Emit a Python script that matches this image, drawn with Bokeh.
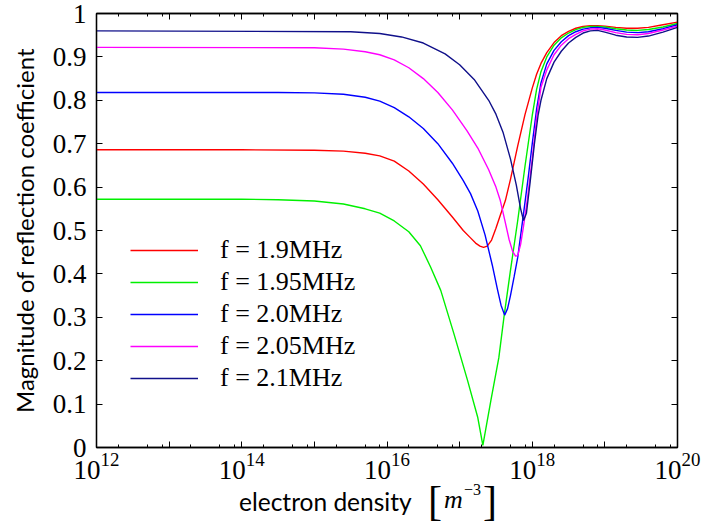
from bokeh.plotting import figure
from bokeh.models import (FixedTicker, LinearAxis, LogAxis, Legend, LegendItem, Div)
from bokeh.layouts import column
from bokeh.embed import file_html
from bokeh.resources import INLINE

# ---- data (log10 of electron density, |reflection coefficient|) ----
exp_190 = [12.0, 14.0, 15.0, 15.4, 15.7, 15.9, 16.1, 16.3, 16.5, 16.7, 16.9, 17.05, 17.15, 17.22, 17.28,
           17.33, 17.38, 17.44, 17.5, 17.56, 17.63, 17.7, 17.8, 17.9, 18.0, 18.06, 18.12, 18.2, 18.3,
           18.4, 18.5, 18.6, 18.7, 18.8, 18.9, 19.0, 19.15, 19.3, 19.45, 19.6, 19.8, 20.0]
mag_190 = [0.686, 0.686, 0.685, 0.683, 0.678, 0.672, 0.660, 0.637, 0.607, 0.571, 0.531, 0.500, 0.483, 0.471, 0.464,
           0.461, 0.464, 0.478, 0.505, 0.535, 0.569, 0.618, 0.695, 0.767, 0.828, 0.860, 0.885, 0.910, 0.933,
           0.949, 0.959, 0.966, 0.970, 0.972, 0.972, 0.971, 0.968, 0.966, 0.966, 0.968, 0.974, 0.980]

exp_195 = [12.0, 14.0, 14.5, 15.0, 15.4, 15.7, 15.9, 16.1, 16.3, 16.46, 16.6, 16.74, 16.92, 17.11, 17.25,
           17.32, 17.43, 17.54, 17.61, 17.7, 17.8, 17.9, 18.0, 18.06, 18.12, 18.2, 18.3, 18.4, 18.5,
           18.6, 18.7, 18.8, 18.9, 19.0, 19.15, 19.3, 19.45, 19.6, 19.8, 20.0]
mag_195 = [0.572, 0.572, 0.571, 0.568, 0.561, 0.550, 0.540, 0.522, 0.497, 0.465, 0.416, 0.362, 0.263, 0.154, 0.069,
           0.005, 0.108, 0.207, 0.300, 0.408, 0.523, 0.648, 0.765, 0.825, 0.866, 0.900, 0.927, 0.944, 0.955,
           0.963, 0.968, 0.970, 0.970, 0.969, 0.965, 0.962, 0.961, 0.963, 0.969, 0.977]

exp_200 = [12.0, 14.5, 15.0, 15.4, 15.7, 15.9, 16.1, 16.3, 16.5, 16.7, 16.9, 17.05, 17.15, 17.25, 17.35,
           17.45, 17.52, 17.57, 17.62, 17.66, 17.7, 17.75, 17.8, 17.88, 17.95, 18.0, 18.06, 18.12, 18.2,
           18.3, 18.4, 18.5, 18.6, 18.7, 18.8, 18.9, 19.0, 19.15, 19.3, 19.45, 19.6, 19.8, 20.0]
mag_200 = [0.818, 0.818, 0.817, 0.814, 0.807, 0.798, 0.783, 0.762, 0.735, 0.700, 0.655, 0.615, 0.585, 0.545, 0.490,
           0.420, 0.365, 0.328, 0.305, 0.320, 0.350, 0.393, 0.438, 0.539, 0.630, 0.700, 0.780, 0.840, 0.884,
           0.915, 0.935, 0.949, 0.958, 0.964, 0.967, 0.968, 0.966, 0.961, 0.957, 0.956, 0.958, 0.965, 0.974]

exp_205 = [12.0, 15.0, 15.4, 15.7, 15.9, 16.1, 16.3, 16.5, 16.7, 16.9, 17.1, 17.25, 17.4, 17.5, 17.56,
           17.62, 17.68, 17.73, 17.77, 17.8, 17.84, 17.88, 17.93, 18.0, 18.06, 18.12, 18.2, 18.3, 18.4,
           18.5, 18.6, 18.7, 18.8, 18.9, 19.0, 19.15, 19.3, 19.45, 19.6, 19.8, 20.0]
mag_205 = [0.922, 0.921, 0.918, 0.912, 0.905, 0.893, 0.875, 0.850, 0.818, 0.778, 0.730, 0.690, 0.640, 0.600, 0.569,
           0.525, 0.480, 0.452, 0.441, 0.442, 0.468, 0.510, 0.569, 0.665, 0.760, 0.830, 0.870, 0.905, 0.927,
           0.942, 0.952, 0.960, 0.964, 0.965, 0.962, 0.956, 0.952, 0.951, 0.954, 0.962, 0.971]

exp_210 = [12.0, 15.5, 15.9, 16.2, 16.5, 16.8, 17.0, 17.2, 17.4, 17.5, 17.6, 17.7, 17.78, 17.84, 17.88,
           17.92, 17.97, 18.03, 18.08, 18.12, 18.2, 18.3, 18.4, 18.5, 18.6, 18.7, 18.8, 18.9, 19.0,
           19.15, 19.3, 19.45, 19.6, 19.8, 20.0]
mag_210 = [0.960, 0.958, 0.954, 0.946, 0.932, 0.907, 0.882, 0.848, 0.800, 0.768, 0.725, 0.665, 0.605, 0.550, 0.523,
           0.540, 0.610, 0.700, 0.765, 0.800, 0.850, 0.888, 0.913, 0.932, 0.945, 0.955, 0.960, 0.961, 0.957,
           0.950, 0.946, 0.945, 0.948, 0.957, 0.968]

series_labels = ["f = 1.9MHz", "f = 1.95MHz", "f = 2.0MHz", "f = 2.05MHz", "f = 2.1MHz"]
series_colors = ["#ff0000", "#00f000", "#0000ff", "#ff00ff", "#10108a"]
series_exp = [exp_190, exp_195, exp_200, exp_205, exp_210]
series_mag = [mag_190, mag_195, mag_200, mag_205, mag_210]

y_ticks = [0, 0.1, 0.2, 0.3, 0.4, 0.5, 0.6, 0.7, 0.8, 0.9, 1]
y_tick_labels = ["0", "0.1", "0.2", "0.3", "0.4", "0.5", "0.6", "0.7", "0.8", "0.9", "1"]
x_major_exps = [12, 13, 14, 15, 16, 17, 18, 19, 20]
x_labeled_exps = [12, 14, 16, 18, 20]
x_minor_mantissas = [2, 5, 8]

x_ticks = [10.0 ** e for e in x_major_exps]
x_minor = [m * 10.0 ** e for e in x_major_exps[:-1] for m in x_minor_mantissas]

SERIF = "Liberation Serif"
SANS = "Lato"

p = figure(width=705, height=491, x_axis_type="log", x_range=(1e12, 1e20), y_range=(0, 1),
           output_backend="svg", toolbar_location=None,
           min_border_left=96, min_border_right=28, min_border_top=13, min_border_bottom=44)
p.grid.visible = False
p.outline_line_color = "black"
p.outline_line_width = 1.3
p.background_fill_color = "white"
p.border_fill_color = "white"

def style_axis(ax):
    ax.axis_line_color = "black"
    ax.axis_line_width = 1.3
    ax.major_tick_in = 6
    ax.major_tick_out = 0
    ax.minor_tick_in = 3
    ax.minor_tick_out = 0
    ax.major_tick_line_color = "black"
    ax.minor_tick_line_color = "black"
    ax.major_label_text_font = SERIF
    ax.major_label_text_font_size = "27px"
    ax.major_label_text_color = "black"

xax = p.xaxis[0]
xax.ticker = FixedTicker(ticks=x_ticks, minor_ticks=x_minor)
style_axis(xax)
xax.major_label_standoff = 5
xax.major_label_overrides = {10.0 ** e: " " for e in x_major_exps if e not in x_labeled_exps}

yax = p.yaxis[0]
yax.ticker = FixedTicker(ticks=y_ticks, minor_ticks=[])
style_axis(yax)
yax.major_label_standoff = 10
yax.major_label_overrides = {t: lab for t, lab in zip(y_ticks, y_tick_labels)}
yax.axis_label = "Magnitude of reflection coefficient"
yax.axis_label_text_font = SANS
yax.axis_label_text_font_size = "24px"
yax.axis_label_text_font_style = "normal"
yax.axis_label_text_color = "black"
yax.axis_label_standoff = 11

top = LogAxis(ticker=FixedTicker(ticks=x_ticks, minor_ticks=x_minor))
style_axis(top)
top.major_label_text_font_size = "1px"
top.major_label_standoff = 0
top.major_label_overrides = {t: " " for t in x_ticks}
p.add_layout(top, "above")
right = LinearAxis(ticker=FixedTicker(ticks=y_ticks, minor_ticks=[]))
style_axis(right)
right.major_label_text_font_size = "1px"
right.major_label_standoff = 0
right.major_label_overrides = {t: " " for t in y_ticks}
p.add_layout(right, "right")

items = []
for lab, col, ex, mg in zip(series_labels, series_colors, series_exp, series_mag):
    dens = [10.0 ** e for e in ex]
    r = p.line(dens, mg, line_color=col, line_width=1.4)
    items.append(LegendItem(label=lab, renderers=[r]))

legend = Legend(items=items, location=(34, 54))
legend.label_text_font = SERIF
legend.label_text_font_size = "26px"
legend.label_text_color = "black"
legend.glyph_width = 68
legend.glyph_height = 30
legend.label_height = 30
legend.spacing = 2
legend.padding = 0
legend.margin = 0
legend.label_standoff = 22
legend.border_line_alpha = 0
legend.background_fill_alpha = 0
p.add_layout(legend, "center")

# x axis title (mixed fonts) as HTML below the plot
xlabel_html = (
    '<div style="position:relative;width:705px;height:34px;overflow:visible;color:black;">'
    '<span style="position:absolute;left:234px;top:-6px;font-family:Lato;font-size:24.5px;'
    'line-height:24px;white-space:nowrap;">electron density</span>'
    '<span style="position:absolute;left:423px;top:-16px;font-family:\'Liberation Serif\';font-size:42px;'
    'line-height:42px;">[</span>'
    '<span style="position:absolute;left:439px;top:-9px;font-family:\'Liberation Serif\';font-style:italic;'
    'font-size:26px;line-height:26px;">m</span>'
    '<span style="position:absolute;left:459px;top:-14px;font-family:\'Liberation Serif\';font-size:16px;'
    'line-height:16px;white-space:nowrap;">\u22123</span>'
    '<span style="position:absolute;left:478px;top:-16px;font-family:\'Liberation Serif\';font-size:42px;'
    'line-height:42px;">]</span>'
    '</div>'
)
xlabel = Div(text=xlabel_html, width=705, height=34, styles={"overflow": "visible"})

layout = column(p, xlabel, spacing=0)
open("out.html", "w").write(file_html(layout, INLINE))
